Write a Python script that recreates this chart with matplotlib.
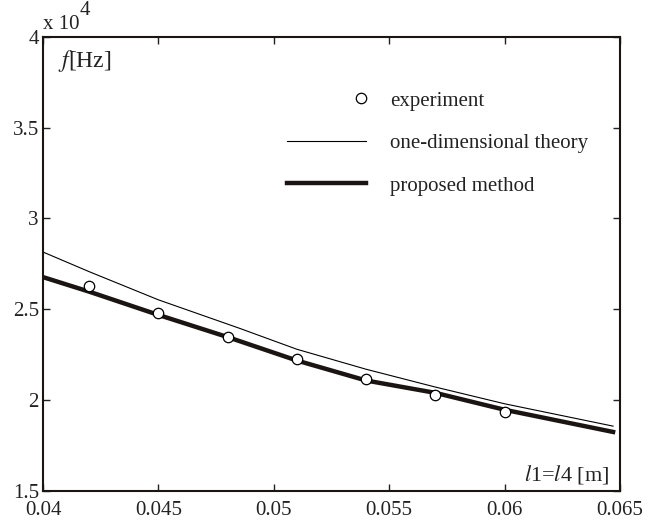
import numpy as np
import matplotlib
matplotlib.use("Agg")
import matplotlib.pyplot as plt
from matplotlib.lines import Line2D
from matplotlib.legend_handler import HandlerLine2D

plt.rcParams['font.family'] = ['Liberation Serif', 'DejaVu Serif']
plt.rcParams['mathtext.fontset'] = 'stix'

# experiment points
exp_x = [0.042, 0.045, 0.048, 0.051, 0.054, 0.057, 0.060]
exp_f = [2.628, 2.482, 2.346, 2.225, 2.117, 2.029, 1.934]  # x 1e4 Hz

# one-dimensional theory
theory_x = [0.040, 0.042, 0.045, 0.0485, 0.051, 0.054, 0.057, 0.060, 0.0647]
theory_f = [2.815, 2.707, 2.552, 2.396, 2.280, 2.170, 2.072, 1.980, 1.857]

# proposed method
prop_x = [0.040, 0.042, 0.045, 0.048, 0.051, 0.054, 0.057, 0.060, 0.0647]
prop_f = [2.677, 2.597, 2.469, 2.347, 2.218, 2.108, 2.040, 1.947, 1.825]

xticks = [0.04, 0.045, 0.05, 0.055, 0.06, 0.065]
xticklabels = ['0.04', '0.045', '0.05', '0.055', '0.06', '0.065']
yticks = [1.5, 2, 2.5, 3, 3.5, 4]
yticklabels = ['1.5', '2', '2.5', '3', '3.5', '4']

W, H = 648, 524
fig = plt.figure(figsize=(W / 100, H / 100), dpi=100)
ax = fig.add_axes([43 / W, 1 - 491 / H, (620 - 43) / W, (491 - 36.7) / H])

fs = 15
ax.plot(theory_x, theory_f, color='black', lw=0.8, label='one-dimensional theory', zorder=2)
ax.plot(prop_x, prop_f, color='#1a1512', lw=3.2, label='proposed method', zorder=3)
ax.plot(exp_x, exp_f, linestyle='none', marker='o', ms=7.5, mfc='white', mec='black',
        mew=0.9, label='experiment', zorder=4)

ax.set_xlim(0.04, 0.065)
ax.set_ylim(1.5, 4)
ax.set_xticks(xticks)
ax.set_xticklabels(xticklabels)
ax.set_yticks(yticks)
ax.set_yticklabels(yticklabels)
ax.tick_params(direction='in', length=5, width=1, top=True, right=True,
               labelsize=fs, colors='#222222')
ax.tick_params(axis='x', pad=7)
ax.tick_params(axis='y', pad=3)
for s in ax.spines.values():
    s.set_linewidth(1.5)
    s.set_color('#1a1512')


class RightMarker(HandlerLine2D):
    def create_artists(self, legend, orig_handle, xdescent, ydescent, width, height,
                       fontsize, trans):
        x = width - xdescent - 4
        y = (height - ydescent) / 2
        line = Line2D([x], [y])
        self.update_prop(line, orig_handle, legend)
        line.set_transform(trans)
        return [line]


handles, labels = ax.get_legend_handles_labels()
order = [2, 0, 1]
leg = ax.legend([handles[i] for i in order], [labels[i] for i in order],
                loc='upper left', bbox_to_anchor=(287 / W, 1 - 91 / H),
                bbox_transform=fig.transFigure, frameon=False, fontsize=fs,
                borderpad=0, borderaxespad=0, handlelength=3.8, handletextpad=1.15,
                labelspacing=1.1, handler_map={handles[2]: RightMarker()})
for t in leg.get_texts():
    t.set_color('#222222')

# y label and multiplier
ax.text(0.026, 0.975, r'$f$[Hz]', transform=ax.transAxes, fontsize=fs + 2,
        ha='left', va='top', color='#222222')
ax.text(0.0, 1.006, 'x 10', transform=ax.transAxes, fontsize=fs, ha='left',
        va='bottom', color='#222222')
ax.text(0.064, 1.036, '4', transform=ax.transAxes, fontsize=fs, ha='left',
        va='bottom', color='#222222')

# x label
ax.text(0.982, 0.011, r'$l$1=$l$4 [m]', transform=ax.transAxes, fontsize=fs + 1,
        ha='right', va='bottom', color='#222222')

fig.savefig('out.png', dpi=100)
